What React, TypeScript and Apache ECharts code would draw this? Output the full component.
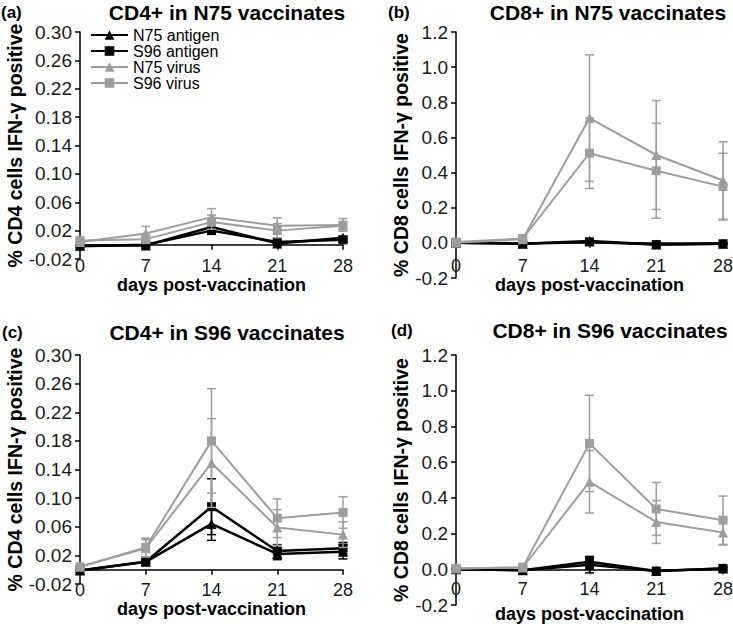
import React, { useEffect, useRef } from "react";
import * as echarts from "echarts";

// ---- data ----
const days = [0, 7, 14, 21, 28];
const seriesNames = ["N75 antigen", "S96 antigen", "N75 virus", "S96 virus"];

// (a) CD4+ in N75 vaccinates
const aN75Antigen = [-0.001, -0.001, 0.025, 0.002, 0.010];
const aS96Antigen = [-0.002, 0.0, 0.020, 0.004, 0.007];
const aN75Virus = [0.004, 0.016, 0.039, 0.027, 0.028];
const aS96Virus = [0.006, 0.008, 0.032, 0.020, 0.027];
const aN75AntigenErr = [0.001, 0.001, 0.003, 0.002, 0.002];
const aS96AntigenErr = [0.001, 0.001, 0.003, 0.002, 0.002];
const aN75VirusErr = [0.003, 0.010, 0.012, 0.011, 0.009];
const aS96VirusErr = [0.003, 0.006, 0.010, 0.010, 0.006];

// (b) CD8+ in N75 vaccinates
const bN75Antigen = [0.0, -0.005, 0.01, -0.01, -0.005];
const bS96Antigen = [0.0, -0.005, 0.005, -0.01, -0.005];
const bN75Virus = [0.0, 0.02, 0.71, 0.5, 0.355];
const bS96Virus = [0.005, 0.025, 0.51, 0.41, 0.32];
const bN75AntigenErr = [0.005, 0.005, 0.015, 0.005, 0.005];
const bS96AntigenErr = [0.005, 0.005, 0.01, 0.005, 0.005];
const bN75VirusErr = [0.01, 0.02, 0.36, 0.31, 0.22];
const bS96VirusErr = [0.01, 0.02, 0.2, 0.27, 0.19];

// (c) CD4+ in S96 vaccinates
const cN75Antigen = [-0.001, 0.011, 0.064, 0.022, 0.025];
const cS96Antigen = [-0.001, 0.011, 0.088, 0.026, 0.03];
const cN75Virus = [0.004, 0.03, 0.149, 0.059, 0.049];
const cS96Virus = [0.004, 0.031, 0.18, 0.072, 0.08];
const cN75AntigenErr = [0.001, 0.002, 0.023, 0.008, 0.01];
const cS96AntigenErr = [0.001, 0.002, 0.039, 0.009, 0.008];
const cN75VirusErr = [0.002, 0.012, 0.062, 0.025, 0.018];
const cS96VirusErr = [0.002, 0.013, 0.073, 0.027, 0.022];

// (d) CD8+ in S96 vaccinates
const dN75Antigen = [0.0, -0.005, 0.025, -0.01, 0.005];
const dS96Antigen = [0.0, -0.005, 0.042, -0.01, 0.005];
const dN75Virus = [0.005, 0.01, 0.49, 0.265, 0.206];
const dS96Virus = [0.005, 0.012, 0.705, 0.338, 0.275];
const dN75AntigenErr = [0.005, 0.005, 0.045, 0.005, 0.01];
const dS96AntigenErr = [0.005, 0.005, 0.03, 0.005, 0.005];
const dN75VirusErr = [0.01, 0.01, 0.175, 0.12, 0.07];
const dS96VirusErr = [0.01, 0.01, 0.27, 0.148, 0.135];

// axis ranges
const cd4Axis = { min: -0.02, max: 0.3, step: 0.04, decimals: 2 };
const cd8Axis = { min: -0.2, max: 1.2, step: 0.2, decimals: 1 };

const panels = [
  {
    label: "(a)", title: "CD4+ in N75 vaccinates", yName: "% CD4 cells IFN-γ positive", axis: cd4Axis,
    values: [aN75Antigen, aS96Antigen, aN75Virus, aS96Virus],
    errors: [aN75AntigenErr, aS96AntigenErr, aN75VirusErr, aS96VirusErr],
  },
  {
    label: "(b)", title: "CD8+ in N75 vaccinates", yName: "% CD8 cells IFN-γ positive", axis: cd8Axis,
    values: [bN75Antigen, bS96Antigen, bN75Virus, bS96Virus],
    errors: [bN75AntigenErr, bS96AntigenErr, bN75VirusErr, bS96VirusErr],
  },
  {
    label: "(c)", title: "CD4+ in S96 vaccinates", yName: "% CD4 cells IFN-γ positive", axis: cd4Axis,
    values: [cN75Antigen, cS96Antigen, cN75Virus, cS96Virus],
    errors: [cN75AntigenErr, cS96AntigenErr, cN75VirusErr, cS96VirusErr],
  },
  {
    label: "(d)", title: "CD8+ in S96 vaccinates", yName: "% CD8 cells IFN-γ positive", axis: cd8Axis,
    values: [dN75Antigen, dS96Antigen, dN75Virus, dS96Virus],
    errors: [dN75AntigenErr, dS96AntigenErr, dN75VirusErr, dS96VirusErr],
  },
];

// ---- layout / style ----
const FONT = "'Liberation Sans', Arial, Helvetica, sans-serif";
const BLACK = "#000000";
const GREY = "#9e9e9e";
const seriesColors = [BLACK, BLACK, GREY, GREY];
const seriesSymbols = ["triangle", "rect", "triangle", "rect"];
const seriesSymbolSizes = [10, 9, 10, 9];
const seriesLineWidths = [2.5, 2.5, 2, 2];

const gridBoxes = [
  { left: 80, top: 32, width: 263, height: 227 },
  { left: 456, top: 32, width: 267, height: 246 },
  { left: 80, top: 355, width: 263, height: 229 },
  { left: 456, top: 355, width: 267, height: 250 },
];
const xLabelMargins = [12, 14, 11, 11];
const xNameGaps = [28, 31, 28, 36];
const yNameGaps = [54, 45, 55, 43];
const headerPos = [
  { lx: 1, tx: 227, y: 12 },
  { lx: 388, tx: 608, y: 12 },
  { lx: 2, tx: 227, y: 332 },
  { lx: 391, tx: 610, y: 330 },
];

function buildOption() {
  const grid: any[] = [];
  const xAxis: any[] = [];
  const yAxis: any[] = [];
  const series: any[] = [];
  const graphic: any[] = [];

  panels.forEach((p, i) => {
    const box = gridBoxes[i];
    // the days axis crosses the value axis at zero (Excel style)
    const zeroOffset = -((0 - p.axis.min) / (p.axis.max - p.axis.min)) * box.height;
    grid.push({ ...box, containLabel: false, outerBoundsMode: "none" });
    xAxis.push({
      type: "value",
      gridIndex: i,
      min: 0,
      max: 28,
      interval: 7,
      position: "bottom",
      offset: zeroOffset,
      name: "days post-vaccination",
      nameLocation: "middle",
      nameGap: xNameGaps[i],
      nameTextStyle: { fontFamily: FONT, fontSize: 18, fontWeight: "bold", color: "#000" },
      axisLine: { show: true, onZero: false, lineStyle: { color: "#000", width: 1.5 } },
      axisTick: { show: true, length: 5, lineStyle: { color: "#000", width: 1.5 } },
      axisLabel: { fontFamily: FONT, fontSize: 18, color: "#1a1a1a", margin: xLabelMargins[i] },
      splitLine: { show: false },
    });
    yAxis.push({
      type: "value",
      gridIndex: i,
      min: p.axis.min,
      max: p.axis.max,
      interval: p.axis.step,
      name: p.yName,
      nameLocation: "middle",
      nameGap: yNameGaps[i],
      nameTextStyle: { fontFamily: FONT, fontSize: 19.5, fontWeight: "bold", color: "#000" },
      axisLine: { show: true, onZero: false, lineStyle: { color: "#000", width: 1.5 } },
      axisTick: { show: true, length: 5, lineStyle: { color: "#000", width: 1.5 } },
      axisLabel: {
        fontFamily: FONT,
        fontSize: 19,
        color: "#1a1a1a",
        margin: 8,
        formatter: (v: number) => v.toFixed(p.axis.decimals),
      },
      splitLine: { show: false },
    });

    p.values.forEach((vals, s) => {
      const color = seriesColors[s];
      const errData = days.map((d, k) => [d, vals[k] - p.errors[s][k], vals[k] + p.errors[s][k]]);
      series.push({
        type: "custom",
        name: seriesNames[s] + " error",
        xAxisIndex: i,
        yAxisIndex: i,
        z: 2 + s,
        clip: false,
        silent: true,
        encode: { x: 0, y: [1, 2] },
        data: errData,
        renderItem: (params: any, api: any) => {
          const x = api.value(0);
          const lo = api.value(1);
          const hi = api.value(2);
          const top = api.coord([x, hi]);
          const bot = api.coord([x, lo]);
          const w = 4.5;
          const st = { stroke: color, lineWidth: 1.5 };
          return {
            type: "group",
            children: [
              { type: "line", shape: { x1: top[0], y1: top[1], x2: bot[0], y2: bot[1] }, style: st },
              { type: "line", shape: { x1: top[0] - w, y1: top[1], x2: top[0] + w, y2: top[1] }, style: st },
              { type: "line", shape: { x1: bot[0] - w, y1: bot[1], x2: bot[0] + w, y2: bot[1] }, style: st },
            ],
          };
        },
      });
      series.push({
        type: "line",
        name: seriesNames[s],
        xAxisIndex: i,
        yAxisIndex: i,
        z: 2 + s,
        data: days.map((d, k) => [d, vals[k]]),
        symbol: seriesSymbols[s],
        symbolSize: seriesSymbolSizes[s],
        showAllSymbol: true,
        lineStyle: { color, width: seriesLineWidths[s] },
        itemStyle: { color, borderWidth: 0 },
        emphasis: { disabled: true },
      });
    });

    graphic.push({
      type: "text",
      x: headerPos[i].lx,
      y: headerPos[i].y,
      style: {
        text: p.label,
        font: `bold 17px ${FONT}`,
        fill: "#000",
        textAlign: "left",
        textVerticalAlign: "middle",
      },
    });
    graphic.push({
      type: "text",
      x: headerPos[i].tx,
      y: headerPos[i].y,
      style: {
        text: p.title,
        font: `bold 21px ${FONT}`,
        fill: "#000",
        textAlign: "center",
        textVerticalAlign: "middle",
      },
    });
  });

  return {
    animation: false,
    backgroundColor: "#ffffff",
    grid,
    xAxis,
    yAxis,
    series,
    graphic,
    legend: {
      data: seriesNames,
      orient: "vertical",
      left: 85,
      top: 22,
      itemWidth: 37,
      itemHeight: 12,
      itemGap: 0,
      selectedMode: false,
      textStyle: { fontFamily: FONT, fontSize: 16, lineHeight: 16, color: "#000" },
    },
  };
}

export default function App() {
  const ref = useRef<HTMLDivElement>(null);
  useEffect(() => {
    document.body.style.margin = "0";
    if (!ref.current) return;
    const chart = echarts.init(ref.current, undefined, { renderer: "svg" });
    chart.setOption(buildOption() as any);
    return () => {
      chart.dispose();
    };
  }, []);
  return <div ref={ref} style={{ width: 733, height: 624 }} />;
}
